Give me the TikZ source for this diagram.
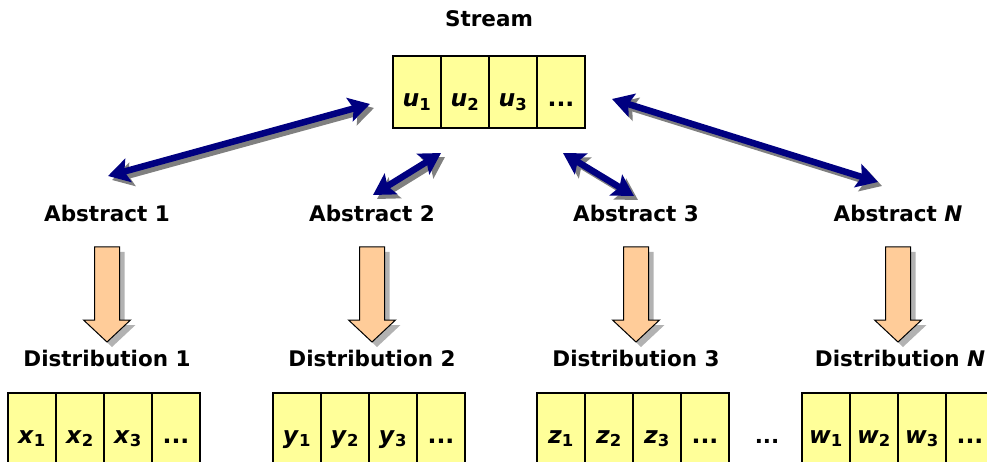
\documentclass[tikz,border=0pt]{standalone}
\usepackage{fontspec}
\setmainfont{DejaVu Sans}
\usetikzlibrary{arrows.meta, calc}
\definecolor{cellyellow}{RGB}{255,255,153}
\definecolor{blockfill}{RGB}{255,204,153}
\definecolor{linknavy}{RGB}{0,0,128}
\newcommand{\bigfont}{\fontsize{21.5}{24}\selectfont\bfseries}
\newcommand{\cellfont}{\fontsize{23.5}{26}\selectfont\bfseries}
\newcommand{\vv}[2]{\textit{#1}\textsubscript{#2}}
\tikzset{
    cell/.style = {draw, fill=cellyellow, line width=1.2pt, minimum width=48pt,
                   inner sep=0pt, anchor=base, font=\cellfont},
    topcell/.style = {cell, text height=51pt, text depth=21pt},
    botcell/.style = {cell, text height=50pt, text depth=22pt},
    lbl/.style = {font=\bigfont, inner sep=0pt, anchor=base},
    link/.style = {{Stealth[length=21pt, width=24pt, inset=4pt]}-{Stealth[length=21pt, width=24pt, inset=4pt]},
                   line width=6.5pt, linknavy},
    linkshadow/.style = {link, gray, transform canvas={xshift=4pt, yshift=-4pt}},
    blockarrow/.style = {draw=black, fill=blockfill, line width=1pt},
    blockshadow/.style = {fill=gray!60}
}

\begin{document}
\begin{tikzpicture}[x=1pt, y=-1pt]
    \useasboundingbox (0,0) rectangle (987,462);
    \clip (0,0) rectangle (987,462);

    % stream
    \node[lbl] (stream) at (489,27) {Stream};
    \node[topcell] (u1) at (417,107) {\vv{u}{1}};
    \node[topcell] (u2) at (465,107) {\vv{u}{2}};
    \node[topcell] (u3) at (513,107) {\vv{u}{3}};
    \node[topcell] (u4) at (561,107) {...};

    % abstracts
    \node[lbl] (abs1) at (107,222) {Abstract 1};
    \node[lbl] (abs2) at (372,222) {Abstract 2};
    \node[lbl] (abs3) at (636,222) {Abstract 3};
    \node[lbl] (abs4) at (898,222) {Abstract \textit{N}};

    % distributions
    \node[lbl] (dist1) at (107,366) {Distribution 1};
    \node[lbl] (dist2) at (372,366) {Distribution 2};
    \node[lbl] (dist3) at (636,366) {Distribution 3};
    \node[lbl] (dist4) at (900,366) {Distribution \textit{N}};

    % link ends
    \coordinate (s1) at (370,104);
    \coordinate (a1) at (108,176);
    \coordinate (s2) at (441,153);
    \coordinate (a2) at (373,195);
    \coordinate (s3) at (563,153);
    \coordinate (a3) at (634,196);
    \coordinate (s4) at (612,99);
    \coordinate (a4) at (878,182);

    \foreach \i in {1,...,4}
        \draw[linkshadow] (s\i) -- (a\i);
    \foreach \i in {1,...,4}
        \draw[link] (s\i) -- (a\i);

    % block arrows
    \foreach \x in {107,372,636,898} {
        \fill[blockshadow, shift={(\x+5,5)}] (-12.5,247) -- (12.5,247) -- (12.5,320)
            -- (23.5,320) -- (0,342) -- (-23.5,320) -- (-12.5,320) -- cycle;
        \draw[blockarrow, shift={(\x,0)}] (-12.5,247) -- (12.5,247) -- (12.5,320)
            -- (23.5,320) -- (0,342) -- (-23.5,320) -- (-12.5,320) -- cycle;
    }

    % samples
    \node[botcell] (x1) at (32,443) {\vv{x}{1}};
    \node[botcell] (x2) at (80,443) {\vv{x}{2}};
    \node[botcell] (x3) at (128,443) {\vv{x}{3}};
    \node[botcell] (x4) at (176,443) {...};

    \node[botcell] (y1) at (297,443) {\vv{y}{1}};
    \node[botcell] (y2) at (345,443) {\vv{y}{2}};
    \node[botcell] (y3) at (393,443) {\vv{y}{3}};
    \node[botcell] (y4) at (441,443) {...};

    \node[botcell] (z1) at (561,443) {\vv{z}{1}};
    \node[botcell] (z2) at (609,443) {\vv{z}{2}};
    \node[botcell] (z3) at (657,443) {\vv{z}{3}};
    \node[botcell] (z4) at (705,443) {...};

    \node[lbl] (gap) at (767,443) {...};

    \node[botcell] (w1) at (826,443) {\vv{w}{1}};
    \node[botcell] (w2) at (874,443) {\vv{w}{2}};
    \node[botcell] (w3) at (922,443) {\vv{w}{3}};
    \node[botcell] (w4) at (970,443) {...};
\end{tikzpicture}
\end{document}
